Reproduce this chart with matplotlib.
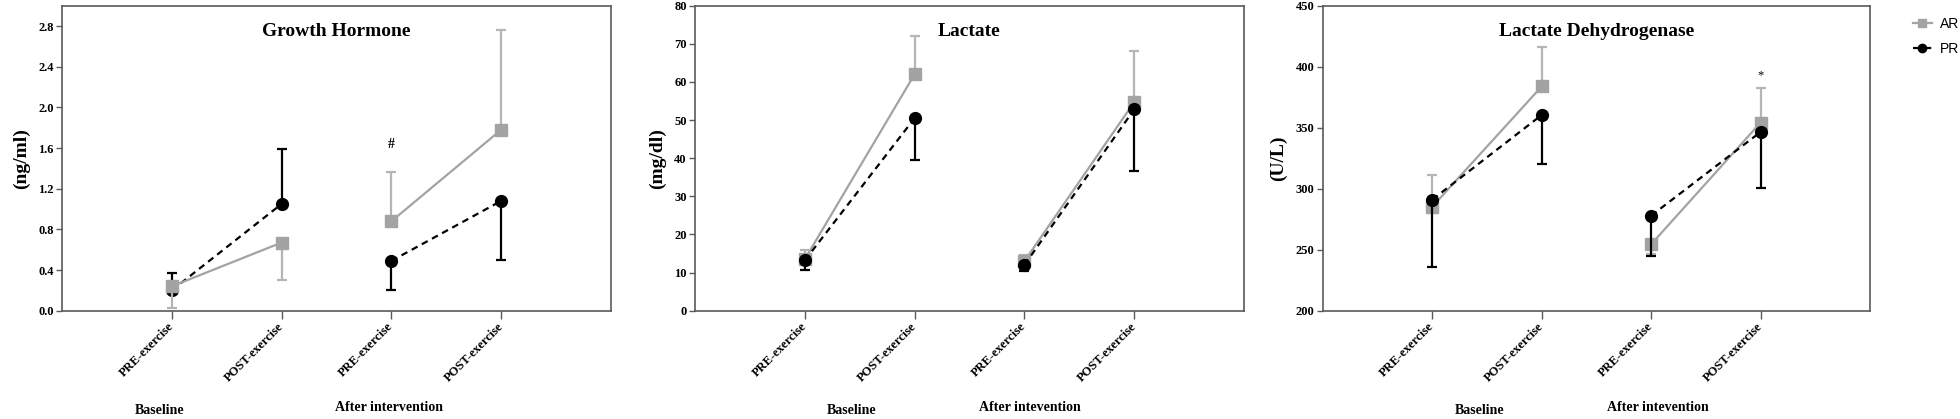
import numpy as np
import matplotlib
matplotlib.use("Agg")
import matplotlib.pyplot as plt
import matplotlib.transforms as mtransforms
from matplotlib.lines import Line2D

# ---------------- data ----------------
x_pos = [1, 2, 3, 4]
tick_labels = ["PRE-exercise", "POST-exercise", "PRE-exercise", "POST-exercise"]

titles = ["Growth Hormone", "Lactate", "Lactate Dehydrogenase"]
ylabels = ["(ng/ml)", "(mg/dl)", "(U/L)"]
group_labels = [["Baseline", "After intervention"],
                ["Baseline", "After intevention"],
                ["Baseline", "After intevention"]]

# Growth hormone
gh_ar = [0.24, 0.67, 0.88, 1.78]
gh_ar_lo = [0.21, 0.37, 0.0, 0.0]
gh_ar_hi = [0.0, 0.0, 0.48, 0.98]
gh_pr = [0.20, 1.05, 0.49, 1.08]
gh_pr_lo = [0.0, 0.0, 0.29, 0.58]
gh_pr_hi = [0.17, 0.54, 0.0, 0.0]

# Lactate
la_ar = [13.5, 62.0, 13.0, 54.7]
la_ar_lo = [0.0, 0.0, 0.0, 0.0]
la_ar_hi = [2.5, 10.0, 1.5, 13.4]
la_pr = [13.2, 50.5, 12.0, 52.8]
la_pr_lo = [2.4, 11.1, 1.6, 16.2]
la_pr_hi = [0.0, 0.0, 0.0, 0.0]

# Lactate dehydrogenase
ldh_ar = [285.4, 383.9, 254.5, 354.2]
ldh_ar_lo = [0.0, 0.0, 8.0, 0.0]
ldh_ar_hi = [26.1, 32.5, 0.0, 28.1]
ldh_pr = [291.1, 360.5, 277.9, 346.5]
ldh_pr_lo = [55.3, 39.9, 33.0, 45.7]
ldh_pr_hi = [0.0, 0.0, 0.0, 0.0]

ylims = [(0, 3.0), (0, 80), (200, 450)]
yticks = [np.arange(0, 2.81, 0.4), np.arange(0, 81, 10), np.arange(200, 451, 50)]
yfmt = ["{:.1f}", "{:.0f}", "{:.0f}"]

annotations = [("#", 3, 1.63), None, ("*", 4, 393.0)]
group_label_x = [[0.89, 2.98], [1.43, 3.05], [1.43, 3.06]]

panels = [
    (gh_ar, gh_ar_lo, gh_ar_hi, gh_pr, gh_pr_lo, gh_pr_hi),
    (la_ar, la_ar_lo, la_ar_hi, la_pr, la_pr_lo, la_pr_hi),
    (ldh_ar, ldh_ar_lo, ldh_ar_hi, ldh_pr, ldh_pr_lo, ldh_pr_hi),
]

# ---------------- style ----------------
SERIF = "Liberation Serif"
SANS = "Liberation Sans"
AR_COLOR = "#a3a3a3"
AR_ERR = "#b5b5b5"
PR_COLOR = "#000000"
SPINE = "#5a5a5a"
DASH = (0, (3, 2.2))

W, H = 1960, 419
fig = plt.figure(figsize=(W / 100, H / 100), dpi=100)

axes_px = [(62, 611), (695, 1244), (1323, 1870)]
top_px, bot_px = 5.7, 310.7

for i, (ax_l, ax_r) in enumerate(axes_px):
    ax = fig.add_axes([ax_l / W, 1 - bot_px / H, (ax_r - ax_l) / W, (bot_px - top_px) / H])
    ar, ar_lo, ar_hi, pr, pr_lo, pr_hi = panels[i]
    ar_z = 5 if i == 0 else 3
    pr_z = 3 if i == 0 else 5

    # AR
    for g in (slice(0, 2), slice(2, 4)):
        ax.plot(x_pos[g], ar[g], color=AR_COLOR, lw=1.6, zorder=ar_z - 1)
    ax.errorbar(x_pos, ar, yerr=[ar_lo, ar_hi], fmt="s", color=AR_COLOR, ecolor=AR_ERR,
                elinewidth=1.6, capsize=3.5, capthick=1.6, markersize=8.5, zorder=ar_z)
    # PR
    for g in (slice(0, 2), slice(2, 4)):
        ax.plot(x_pos[g], pr[g], color=PR_COLOR, lw=1.6, ls=DASH, zorder=pr_z - 1)
    ax.errorbar(x_pos, pr, yerr=[pr_lo, pr_hi], fmt="o", color=PR_COLOR, ecolor=PR_COLOR,
                elinewidth=1.6, capsize=3.5, capthick=1.6, markersize=8.5, zorder=pr_z)

    ax.set_xlim(0, 5)
    ax.set_ylim(*ylims[i])
    ax.set_xticks(x_pos)
    ax.set_xticklabels(tick_labels, rotation=45, ha="right", va="center",
                       rotation_mode="anchor", fontsize=9, fontweight="bold", family=SERIF)
    ax.set_yticks(yticks[i])
    ax.set_yticklabels([yfmt[i].format(v) for v in yticks[i]], fontsize=9,
                       fontweight="bold", family=SERIF)
    ax.tick_params(axis="y", direction="out", length=4, width=1, color=SPINE, pad=2)
    ax.tick_params(axis="x", direction="out", length=6, width=1, color=SPINE, pad=4)
    for s in ax.spines.values():
        s.set_color(SPINE)
        s.set_linewidth(1.2)

    ax.text(0.5, 0.914, titles[i], transform=ax.transAxes, ha="center", va="center",
            fontsize=14, fontweight="bold", family=SERIF)
    ax.set_ylabel(ylabels[i], fontsize=14, fontweight="bold", family=SERIF, labelpad=6)

    if annotations[i] is not None:
        sym, ax_x, ax_y = annotations[i]
        ax.text(ax_x, ax_y, sym, ha="center", va="center", fontsize=10 if sym == "#" else 9,
                family=SERIF, fontweight="bold" if sym == "#" else "normal")

    trans = mtransforms.blended_transform_factory(ax.transData, fig.transFigure)
    for k, lab in enumerate(group_labels[i]):
        ypix = 410 if k == 0 else 407
        ax.text(group_label_x[i][k], 1 - ypix / H, lab, transform=trans, ha="center",
                va="center", fontsize=10, fontweight="bold", family=SERIF)

handles = [
    Line2D([], [], color=AR_COLOR, lw=1.6, marker="s", markersize=6),
    Line2D([], [], color=PR_COLOR, lw=1.6, ls=DASH, marker="o", markersize=6),
]
fig.legend(handles, ["AR", "PR"], loc="upper left", bbox_to_anchor=(1900 / W, 1 - 4 / H),
           frameon=False, prop={"family": SANS, "size": 10}, handlelength=1.4,
           handletextpad=0.6, labelspacing=0.8, borderpad=0.4)

fig.savefig("out.png", dpi=100)
